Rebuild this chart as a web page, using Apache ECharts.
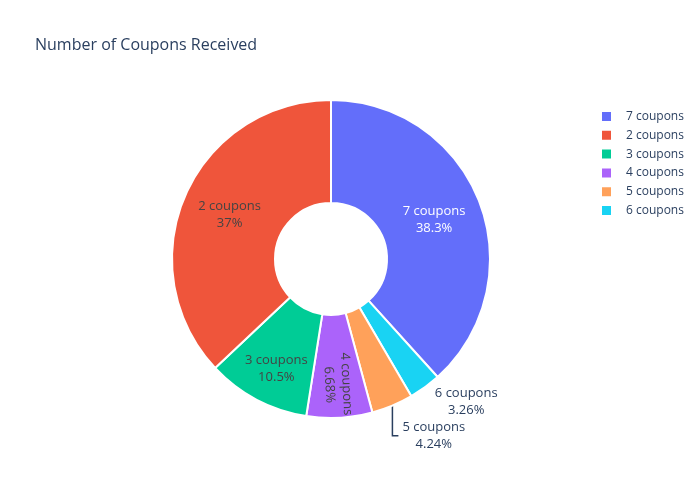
<!DOCTYPE html>
<html>
<head>
<meta charset="utf-8">
<script src="https://cdn.jsdelivr.net/npm/echarts@6/dist/echarts.min.js"></script>
<style>
  html, body { margin: 0; padding: 0; background: #fff; }
  #echarts { width: 700px; height: 500px; }
</style>
</head>
<body>
<div id="echarts"></div>
<script>
// slices in drawing order (clockwise from 12 o'clock)
var categories = ['7 coupons', '6 coupons', '5 coupons', '4 coupons', '3 coupons', '2 coupons'];
var shares = [38.3, 3.26, 4.24, 6.68, 10.5, 37];
// legend order as shown
var legendOrder = ['7 coupons', '2 coupons', '3 coupons', '4 coupons', '5 coupons', '6 coupons'];

var colors = {
  '7 coupons': '#636efa',
  '2 coupons': '#EF553B',
  '3 coupons': '#00cc96',
  '4 coupons': '#ab63fa',
  '5 coupons': '#FFA15A',
  '6 coupons': '#19d3f3'
};

var total = shares.reduce(function (a, b) { return a + b; }, 0);

// per slice label tweaks
var labelStyle = {
  '7 coupons': { color: '#fff' },
  '2 coupons': { color: '#444' },
  '3 coupons': { color: '#444' },
  '4 coupons': { color: '#444', rotate: 'radial' },
  '5 coupons': { position: 'outside', color: '#2a3f5f' },
  '6 coupons': { position: 'outside', color: '#2a3f5f' }
};
var lineStyle = {
  '5 coupons': { show: true, length: 26, length2: 6 },
  '6 coupons': { show: false, length: 15, length2: 1 }
};
// small slices get their text pushed outwards a bit (label's own frame)
var nudge = {
  '3 coupons': [-3, 12],
  '4 coupons': [15, 0]
};

var myChart = echarts.init(document.getElementById('echarts'));

var data = categories.map(function (name, i) {
  var item = {
    name: name,
    value: shares[i],
    itemStyle: { color: colors[name] },
    label: labelStyle[name]
  };
  if (lineStyle[name]) item.labelLine = lineStyle[name];
  return item;
});

option = {
  backgroundColor: '#fff',
  animation: false,
  textStyle: { fontFamily: 'Open Sans' },
  title: {
    text: 'Number of Coupons Received',
    left: 30,
    top: 32,
    textStyle: {
      color: '#2a3f5f',
      fontSize: 16,
      fontWeight: 'normal',
      fontFamily: 'Open Sans'
    }
  },
  legend: {
    orient: 'vertical',
    left: 595,
    top: 105,
    data: legendOrder,
    icon: 'rect',
    itemWidth: 11,
    itemHeight: 11,
    itemGap: 5.8,
    textStyle: {
      color: '#2a3f5f',
      fontSize: 12,
      fontFamily: 'Open Sans',
      padding: [0, 0, 0, 9]
    }
  },
  series: [
    {
      type: 'pie',
      center: [331, 259],
      radius: [56, 159],
      startAngle: 90,
      clockwise: true,
      avoidLabelOverlap: false,
      itemStyle: {
        borderColor: '#fff',
        borderWidth: 2
      },
      label: {
        show: true,
        position: 'inside',
        fontSize: 13,
        fontFamily: 'Open Sans',
        lineHeight: 17,
        align: 'center',
        formatter: function (p) {
          var pct = Number((p.value / total * 100).toPrecision(3));
          return p.name + '\n' + pct + '%';
        }
      },
      labelLine: {
        lineStyle: { color: '#2a3f5f', width: 1.5 }
      },
      labelLayout: function (params) {
        var name = categories[params.dataIndex];
        var r = params.labelRect;
        if (nudge[name]) {
          return { dx: nudge[name][0], dy: nudge[name][1] };
        }
        if (name === '6 coupons') {
          // centred two-line text, no connector
          return {
            x: r.x - 5 + r.width / 2,
            y: r.y + r.height / 2 + 2,
            align: 'center',
            verticalAlign: 'middle'
          };
        }
        if (name === '5 coupons' && params.labelLinePoints) {
          // vertical drop then short hook, like the reference
          var p0 = params.labelLinePoints[0];
          var y = p0[1] + 30;
          return {
            x: p0[0] + 10 + r.width / 2,
            y: y,
            align: 'center',
            verticalAlign: 'middle',
            labelLinePoints: [p0, [p0[0], y], [p0[0] + 6, y]]
          };
        }
        return {};
      },
      emphasis: { disabled: true },
      data: data
    }
  ]
};
myChart.setOption(option);
</script>
</body>
</html>
